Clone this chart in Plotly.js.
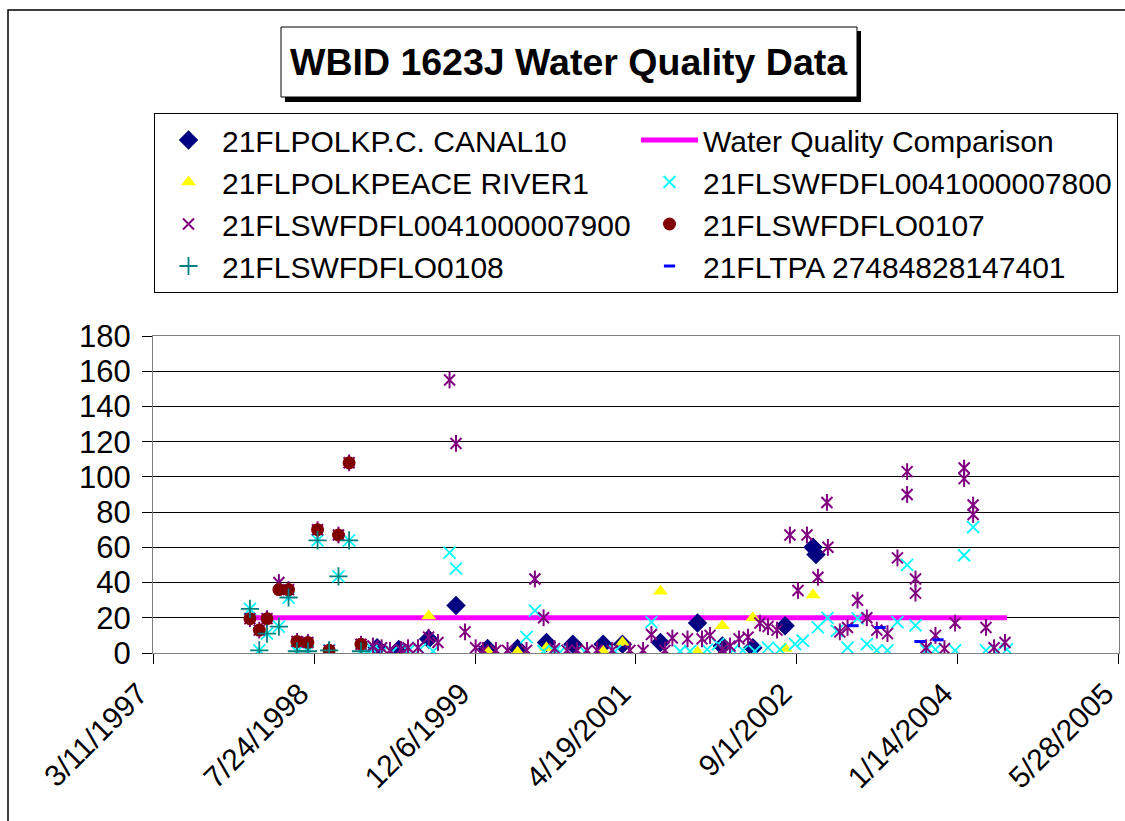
<!DOCTYPE html>
<html>
<head>
<meta charset="utf-8">
<script src="https://cdn.plot.ly/plotly-3.0.1.min.js"></script>
<style>html,body{margin:0;padding:0;background:#fff;}#chart{width:1125px;height:821px;}</style>
</head>
<body>
<div id="chart"></div>
<script>
// ---------- DATA ----------
const canalDates = ['1999-02-05','1999-04-13','1999-07-15','1999-10-08','2000-01-14','2000-04-16','2000-07-15','2000-10-05','2001-01-07','2001-03-08','2001-07-04','2001-10-27','2002-01-12','2002-04-17','2002-07-26','2002-10-21','2002-10-30'];
const canalValues = [3,2,8,27,2.5,2.5,6,5,5,5,6,17,4,3,15.5,60,56];

const peaceDates = ['1999-07-15','2000-01-14','2000-04-16','2000-07-15','2001-01-07','2001-03-08','2001-07-04','2001-10-27','2002-01-12','2002-04-17','2002-07-26','2002-10-21'];
const peaceValues = [21,1,0.5,3,1,6,35,0.5,15.5,20,2.5,33];

const s7800Dates = ['1998-01-06','1998-02-04','1998-02-28','1998-04-06','1998-05-06','1998-06-01','1998-07-05','1998-08-04','1998-09-09','1998-10-08','1998-11-10','1998-12-17',
  '1999-01-05','1999-01-23','1999-02-19','1999-03-23','1999-05-12','1999-06-18','1999-07-29','1999-09-18','1999-10-08',
  '2000-05-14','2000-06-09','2000-07-06','2000-08-09','2000-08-26','2000-11-12','2001-02-13','2001-06-06','2001-09-03','2001-10-04','2001-11-26','2001-12-30',
  '2002-02-14','2002-03-17','2002-04-23','2002-06-03','2002-07-10','2002-08-26','2002-09-19','2002-11-05','2002-12-05',
  '2003-01-03','2003-02-05','2003-03-08','2003-04-06','2003-05-07','2003-06-09','2003-07-10','2003-08-09','2003-09-04','2003-10-07','2003-11-05',
  '2004-01-05','2004-02-02','2004-03-01','2004-04-10','2004-05-14','2004-06-14'];
const s7800Values = [25,1.5,11,15,31.5,1,1,64,1.5,43.5,64,1,
  1,2,0.5,0.5,1,2,1,57,48,
  9,24,1,1,0.5,0.5,1,17.5,1,1,2,5,
  1.5,1.5,1,3,2,5,7,14.5,20,
  12.6,3,19.6,5,1.5,1.5,17.5,50,15.7,1.5,2,
  1.5,55.5,71.5,1.5,1,2];

const s7900Dates = ['1998-01-06','1998-02-04','1998-02-28','1998-04-06','1998-05-06','1998-06-01','1998-07-05','1998-08-04','1998-09-09','1998-10-08','1998-11-10','1998-12-17',
  '1999-01-23','1999-02-19','1999-03-17','1999-04-20','1999-05-12','1999-06-12','1999-07-15','1999-08-13','1999-09-18','1999-10-08','1999-11-05','1999-12-08','1999-12-31',
  '2000-02-09','2000-03-16','2000-05-14','2000-06-09','2000-07-06','2000-08-09','2000-09-17','2000-10-18','2000-11-18','2000-12-19',
  '2001-02-04','2001-03-31','2001-05-11','2001-06-06','2001-07-18','2001-08-10','2001-09-26','2001-11-10','2001-12-05',
  '2002-01-12','2002-02-05','2002-03-05','2002-04-02','2002-05-09','2002-06-03','2002-07-01','2002-08-10','2002-09-04','2002-10-02','2002-11-05','2002-12-03','2002-12-06',
  '2003-01-12','2003-02-05','2003-03-08','2003-04-06','2003-05-07','2003-06-09','2003-07-10','2003-08-09','2003-08-09','2003-09-04','2003-09-04','2003-10-07','2003-11-05','2003-12-03',
  '2004-01-05','2004-02-02','2004-02-02','2004-03-01','2004-03-01','2004-04-10','2004-05-05','2004-06-08'];
const s7900Values = [19.5,13,19.5,40,36,6.5,6,70,1.5,67,108,5,
  4,3,1.5,2,3,3,9,6,155,119,12,3,1.5,
  1.5,1.5,1.5,42,20,2.5,1.5,1.5,1.5,1.5,
  1.5,1.5,1.5,10.5,1.5,8.5,8,8,10,
  2,4,8,9,17,15,13,67,35.5,67,43,85.5,60,
  12,14.5,30,20,13,11,54,103,90,42,34,3,10,2.5,
  17,105,99,84,78.6,14.5,3,6];

const s0107Dates = ['1998-01-06','1998-02-04','1998-02-28','1998-04-06','1998-05-06','1998-06-01','1998-07-05','1998-08-04','1998-09-09','1998-10-08','1998-11-10','1998-12-17'];
const s0107Values = [19.5,13,19.5,36,36,6.5,6,70,1.5,67,108,5];

const s0108Dates = ['1998-01-06','1998-02-04','1998-02-28','1998-04-06','1998-05-06','1998-06-01','1998-07-05','1998-08-04','1998-09-09','1998-10-08','1998-11-10','1998-12-17'];
const s0108Values = [25,1.5,11,15,31.5,1,1,64,1.5,43.5,64,1];

const tpaDates = ['2003-02-22','2003-05-17','2003-09-18','2003-11-13'];
const tpaValues = [15.5,14.5,6.5,7.5];

const wqcDates = ['1998-01-06','2004-06-14'];
const wqcValues = [20,20];

const seriesNames = ['21FLPOLKP.C. CANAL10','Water Quality Comparison','21FLPOLKPEACE RIVER1','21FLSWFDFL0041000007800','21FLSWFDFL0041000007900','21FLSWFDFLO0107','21FLSWFDFLO0108','21FLTPA 27484828147401'];
const chartTitle = 'WBID 1623J Water Quality Data';
const xRange = ['1997-03-11','2005-05-28 01:00'];
const yRange = [0,180];

// ---------- LAYOUT HELPERS ----------
const ML = 153, MR = 6, MT = 336, MB = 168, W = 1125, H = 821;
const PW = W - ML - MR, PH = H - MT - MB;
const px2x = p => (p - ML) / PW;
const py2y = p => (H - MB - p) / PH;
const FONT = 'Liberation Sans, Arial, sans-serif';

const traces = [
  {x: wqcDates, y: wqcValues, name: seriesNames[1], mode: 'lines', legendrank: 2,
   line: {color: '#FF00FF', width: 5}},
  {x: canalDates, y: canalValues, name: seriesNames[0], mode: 'markers', legendrank: 1,
   marker: {symbol: 'diamond', color: '#000080', size: 15}},
  {x: peaceDates, y: peaceValues, name: seriesNames[2], mode: 'markers', legendrank: 3,
   marker: {symbol: 'triangle-up', color: '#FFFF00', size: 13}},
  {x: s7800Dates, y: s7800Values, name: seriesNames[3], mode: 'markers', legendrank: 4,
   marker: {symbol: 'x-thin-open', color: '#00FFFF', size: 12, line: {color: '#00FFFF', width: 1.8}}},
  {x: s7900Dates, y: s7900Values, name: seriesNames[4], mode: 'markers', legendrank: 5,
   marker: {symbol: 'x-thin-open', color: '#800080', size: 11, line: {color: '#800080', width: 2}}},
  {x: s7900Dates, y: s7900Values, name: seriesNames[4], mode: 'markers', showlegend: false,
   marker: {symbol: 'line-ns-open', color: '#800080', size: 12, line: {color: '#800080', width: 2}}},
  {x: s0107Dates, y: s0107Values, name: seriesNames[5], mode: 'markers', legendrank: 6,
   marker: {symbol: 'circle', color: '#800000', size: 13}},
  {x: s0108Dates, y: s0108Values, name: seriesNames[6], mode: 'markers', legendrank: 7,
   marker: {symbol: 'cross-thin-open', color: '#008080', size: 13, line: {color: '#008080', width: 1.8}}},
  {x: tpaDates, y: tpaValues, name: seriesNames[7], mode: 'markers', legendrank: 8,
   marker: {symbol: 'line-ew-open', color: '#0000FF', size: 8, line: {color: '#0000FF', width: 3}}}
];

const layout = {
  width: W, height: H,
  margin: {l: ML, r: MR, t: MT, b: MB, pad: 0},
  paper_bgcolor: '#FFFFFF', plot_bgcolor: '#FFFFFF',
  font: {family: FONT, color: '#000000', size: 28},
  showlegend: true,
  xaxis: {
    type: 'date', range: xRange, tick0: '1997-03-11', dtick: 500 * 86400000,
    tickformat: '%-m/%-d/%Y', tickangle: -45, ticks: 'outside', ticklen: 10, tickcolor: '#000',
    ticklabelshift: -14, ticklabeloverflow: 'allow',
    showgrid: false, zeroline: false, showline: true, linecolor: '#808080', linewidth: 1, mirror: true,
    tickfont: {family: FONT, size: 30, color: '#000'}, fixedrange: true
  },
  yaxis: {
    range: yRange, dtick: 20, ticks: 'outside', ticklen: 10, tickcolor: '#000',
    ticklabelstandoff: 5,
    showgrid: true, gridcolor: '#000000', gridwidth: 1, zeroline: false,
    showline: true, linecolor: '#808080', linewidth: 1, mirror: true,
    tickfont: {family: FONT, size: 31, color: '#000'}, fixedrange: true
  },
  legend: {
    orientation: 'h', x: px2x(154), y: py2y(113), xanchor: 'left', yanchor: 'top',
    entrywidth: 409, entrywidthmode: 'pixels', itemwidth: 57, tracegroupgap: 0,
    bordercolor: '#000000', borderwidth: 1, bgcolor: '#FFFFFF',
    font: {family: FONT, size: 30, color: '#000'}, itemsizing: 'trace'
  },
  shapes: [
    {type: 'rect', xref: 'paper', yref: 'paper', x0: px2x(8), x1: px2x(1140), y0: py2y(10), y1: py2y(840),
     line: {color: '#000', width: 1.5}, fillcolor: 'rgba(0,0,0,0)', layer: 'below'},
    {type: 'rect', xref: 'paper', yref: 'paper', x0: px2x(285), x1: px2x(861), y0: py2y(31), y1: py2y(102),
     line: {width: 0}, fillcolor: '#000000'},
    {type: 'rect', xref: 'paper', yref: 'paper', x0: px2x(281), x1: px2x(857), y0: py2y(27), y1: py2y(97),
     line: {color: '#000', width: 1}, fillcolor: '#FFFFFF'}
  ],
  annotations: [
    {text: '<b>' + chartTitle + '</b>', xref: 'paper', yref: 'paper', x: px2x(569), y: py2y(62),
     xanchor: 'center', yanchor: 'middle', showarrow: false, font: {family: FONT, size: 37.5, color: '#000'}}
  ]
};

Plotly.newPlot('chart', traces, layout, {staticPlot: true, displayModeBar: false});
</script>
</body>
</html>
